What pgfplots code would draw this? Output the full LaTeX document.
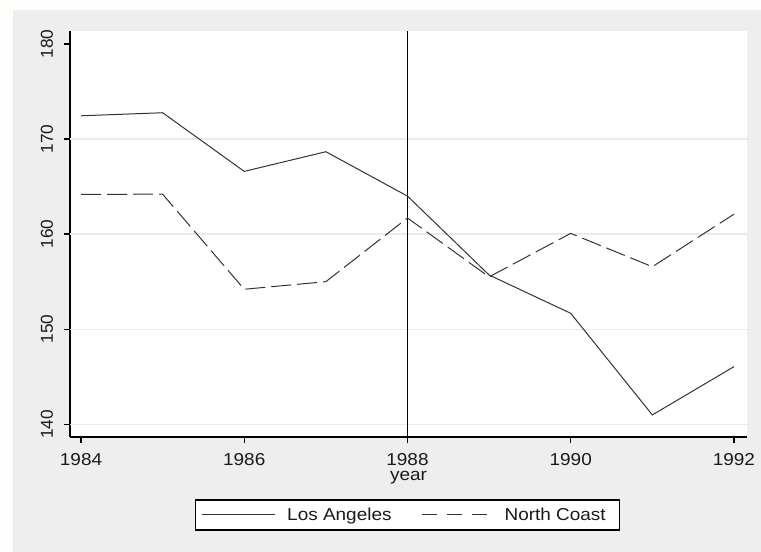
\documentclass[border=0pt]{standalone}
\usepackage{fontspec}
\setmainfont{Liberation Sans}[FakeStretch=1.1]
\newfontfamily\ylabfont{Liberation Sans}
\usepackage{pgfplots}
\pgfplotsset{compat=1.18}
\definecolor{bggray}{HTML}{EEEEEE}
\definecolor{topwhite}{HTML}{FEFDFB}
\definecolor{linegray}{HTML}{333333}
\definecolor{gridgray}{HTML}{EAEAEA}
\definecolor{txt}{HTML}{1A1A1A}
\newcommand{\chartfont}{\fontsize{17.3}{20}\selectfont}
\begin{document}
\begin{tikzpicture}[x=1bp,y=1bp]
\fill[topwhite] (-70,-115) rectangle (691,437);
\fill[bggray] (-57,-115) rectangle (691,427);
\begin{axis}[
  at={(0,0)}, anchor=south west,
  scale only axis, width=677bp, height=406bp,
  xmin=1983.865, xmax=1992.16, ymin=138.66, ymax=181.37,
  axis x line*=bottom, axis y line*=left,
  axis line style={line width=1.3bp, black, -},
  axis background/.style={fill=white},
  xtick={1984,1986,1988,1990,1992},
  ytick={140,150,160,170,180},
  extra y ticks={140,150,160,170}, extra y tick labels={},
  extra y tick style={grid=major, major tick length=0pt, major grid style={gridgray, line width=1.3bp}},
  tick align=outside, major tick length=6bp,
  tick style={line width=1.3bp, black},
  /pgf/number format/1000 sep={},
  /pgf/number format/assume math mode=true,
  xticklabel shift=10bp,
  yticklabel shift=10.7bp,
  xticklabel style={font=\chartfont, text=txt, inner sep=0pt, anchor=north},
  yticklabel style={font=\chartfont\ylabfont, text=txt, rotate=90, anchor=south, inner sep=0pt},
  xlabel={year},
  xlabel style={at={(axis description cs:0.5,-0.1071)}, anchor=base, font=\chartfont, text=txt, inner sep=0pt},
  legend columns=2,
  legend style={at={(axis description cs:0.4985,-0.192)}, anchor=center, draw=black, line width=1.3bp, fill=white,
    inner xsep=6bp, inner ysep=8bp, font=\chartfont, text=txt, nodes={inner sep=0pt},
    /tikz/every odd column/.append style={column sep=12bp},
    /tikz/every even column/.append style={column sep=30bp}},
]
\addplot[black, line width=1.2bp, forget plot] coordinates {(1988,138.66) (1988,181.37)};
\addplot[linegray, line width=1bp,
  legend image code/.code={\draw[linegray, line width=1bp] (0bp,0bp) -- (73bp,0bp);}]
  coordinates {(1984,172.45) (1985,172.77) (1986,166.6) (1987,168.67) (1988,164.0) (1989,155.7) (1990,151.67) (1991,140.98) (1992,146.06)};
\addlegendentry{Los Angeles}
\addplot[linegray, line width=1bp, dash pattern=on 20bp off 6bp,
  legend image code/.code={\draw[linegray, line width=1bp, dash pattern=on 15bp off 10bp] (0bp,0bp) -- (70bp,0bp);}]
  coordinates {(1984,164.19) (1985,164.2) (1986,154.2) (1987,155.0) (1988,161.7) (1989,155.5) (1990,160.08) (1991,156.57) (1992,162.1)};
\addlegendentry{North Coast\hspace*{8bp}}
\end{axis}
\end{tikzpicture}
\end{document}
